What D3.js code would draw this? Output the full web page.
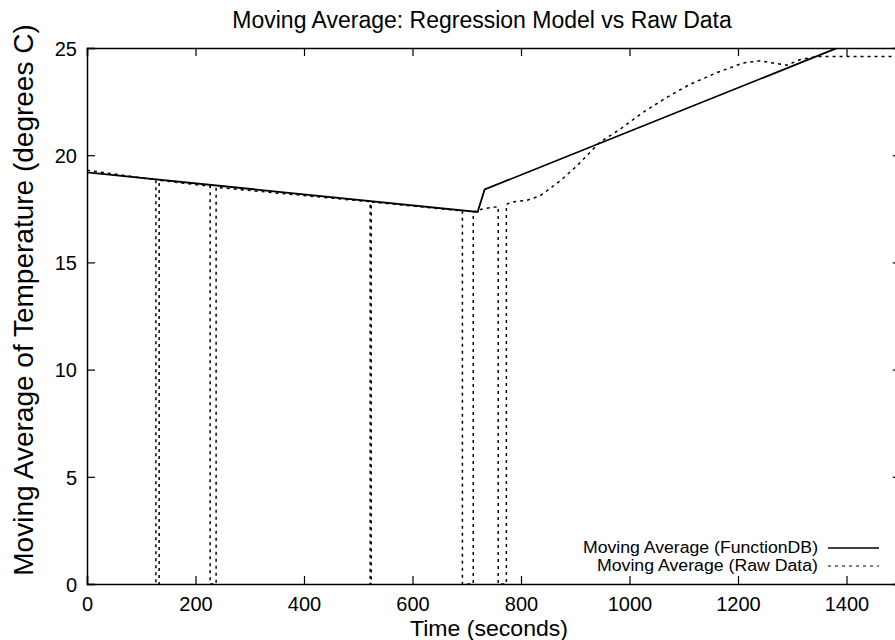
<!DOCTYPE html>
<html>
<head>
<meta charset="utf-8">
<script src="https://cdn.jsdelivr.net/npm/d3@7"></script>
<style>
  html, body { margin: 0; padding: 0; background: #fff; }
  svg { display: block; font-family: "Liberation Sans", Arial, Helvetica, sans-serif; }
</style>
</head>
<body>
<svg id="chart" width="895" height="640"></svg>
<script>
// ---- Data ----
const chartTitle = "Moving Average: Regression Model vs Raw Data";
const xLabel = "Time (seconds)";
const yLabel = "Moving Average of Temperature (degrees C)";
const seriesNames = ["Moving Average (FunctionDB)", "Moving Average (Raw Data)"];

const xTicks = [0, 200, 400, 600, 800, 1000, 1200, 1400];
const yTicks = [0, 5, 10, 15, 20, 25];

// Regression model (FunctionDB)
const modelTime = [0, 720, 733, 1373, 1500];
const modelTemp = [19.2, 17.35, 18.4, 24.9, 26.2];

// Raw data moving average
const rawTime = [0, 127, 127, 133, 133, 227, 227, 238, 238, 522, 522, 524, 524, 692, 692, 712, 712, 730, 758, 758, 773, 773, 780, 811, 835, 872, 903, 945, 982, 1025, 1069, 1111, 1161, 1209, 1241, 1265, 1290, 1314, 1345, 1375, 1406, 1437, 1500];
const rawTemp = [19.3, 18.85, 0, 0, 18.83, 18.55, 0, 0, 18.5, 17.83, 0, 0, 17.82, 17.4, 0, 0, 17.35, 17.5, 17.6, 0, 0, 17.7, 17.8, 17.9, 18.1, 18.8, 19.5, 20.6, 21.2, 22.0, 22.7, 23.3, 23.85, 24.3, 24.4, 24.3, 24.2, 24.45, 24.6, 24.6, 24.6, 24.6, 24.6];

// ---- Layout ----
const svg = d3.select("#chart");
const pLeft = 87, pRight = 900.75, pTop = 48, pBottom = 584;

const x = d3.scaleLinear().domain([0, 1500]).range([pLeft, pRight]);
const y = d3.scaleLinear().domain([0, 25]).range([pBottom, pTop]);

svg.append("defs").append("clipPath").attr("id", "plotclip")
  .append("rect").attr("x", pLeft).attr("y", pTop).attr("width", pRight - pLeft).attr("height", pBottom - pTop);

// Axes (inward ticks, gnuplot style)
const gx = svg.append("g").attr("transform", `translate(0,${pBottom})`)
  .call(d3.axisBottom(x).tickValues(xTicks).tickSize(-8).tickPadding(13).tickFormat(d3.format("d")));
const gxTop = svg.append("g").attr("transform", `translate(0,${pTop})`)
  .call(d3.axisTop(x).tickValues(xTicks).tickSize(-8).tickFormat(""));
const gy = svg.append("g").attr("transform", `translate(${pLeft},0)`)
  .call(d3.axisLeft(y).tickValues(yTicks).tickSize(-8).tickPadding(10).tickFormat(d3.format("d")));
const gyRight = svg.append("g").attr("transform", `translate(${pRight},0)`)
  .call(d3.axisRight(y).tickValues(yTicks).tickSize(-8).tickFormat(""));

[gx, gxTop, gy, gyRight].forEach(g => {
  g.select(".domain").attr("stroke", "#000").attr("stroke-width", 1.5);
  g.selectAll(".tick line").attr("stroke", "#000").attr("stroke-width", 1.2);
  g.selectAll(".tick text").attr("fill", "#000").style("font-size", "20px")
    .style("font-family", "'Liberation Sans', Arial, Helvetica, sans-serif");
});
gx.selectAll(".tick text").attr("dy", null).attr("y", 27);
gy.selectAll(".tick text").attr("dy", "0.36em");

// Lines
const plot = svg.append("g").attr("clip-path", "url(#plotclip)");
const line = d3.line().x(d => x(d[0])).y(d => y(d[1]));

const modelData = modelTime.map((t, i) => [t, modelTemp[i]]);
const rawData = rawTime.map((t, i) => [t, rawTemp[i]]);

plot.append("path").datum(rawData)
  .attr("d", line).attr("fill", "none").attr("stroke", "#000")
  .attr("stroke-width", 1.5).attr("stroke-dasharray", "3,4");

plot.append("path").datum(modelData)
  .attr("d", line).attr("fill", "none").attr("stroke", "#000")
  .attr("stroke-width", 1.8);

// Title & labels
svg.append("text").attr("x", 482).attr("y", 28).attr("text-anchor", "middle")
  .style("font-size", "23px").attr("fill", "#000").text(chartTitle);

svg.append("text").attr("x", 489).attr("y", 636).attr("text-anchor", "middle")
  .style("font-size", "22px").attr("fill", "#000")
  .attr("textLength", 158).attr("lengthAdjust", "spacingAndGlyphs").text(xLabel);

svg.append("text").attr("transform", "translate(33,300) rotate(-90)").attr("text-anchor", "middle")
  .style("font-size", "28px").attr("fill", "#000").text(yLabel);

// Legend
const legend = svg.append("g");
const legendRows = [
  { name: seriesNames[0], dash: null, yy: 548, len: 235 },
  { name: seriesNames[1], dash: "3,4", yy: 566, len: 221 }
];
legendRows.forEach(r => {
  legend.append("text").attr("x", 818).attr("y", r.yy + 5).attr("text-anchor", "end")
    .style("font-size", "16px").attr("fill", "#000")
    .attr("textLength", r.len).attr("lengthAdjust", "spacingAndGlyphs").text(r.name);
  legend.append("line").attr("x1", 828).attr("x2", 879)
    .attr("y1", r.yy).attr("y2", r.yy)
    .attr("stroke", "#000").attr("stroke-width", r.dash ? 1.2 : 1.4)
    .attr("stroke-dasharray", r.dash);
});
</script>
</body>
</html>
